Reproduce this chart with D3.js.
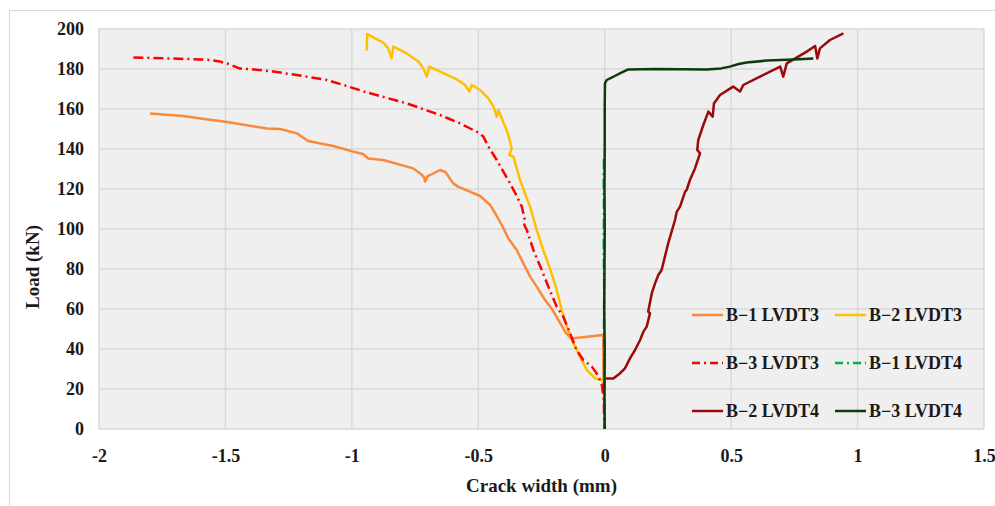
<!DOCTYPE html>
<html>
<head>
<meta charset="utf-8">
<script src="https://cdn.jsdelivr.net/npm/d3@7"></script>
<style>
  html, body { margin: 0; padding: 0; background: #ffffff; }
  svg text { font-family: "Liberation Serif", "DejaVu Serif", serif; font-weight: bold; fill: #1a1a1a; }
</style>
</head>
<body>
<svg id="chart" width="995" height="506"></svg>
<script>
// ---- data (crack width mm, load kN) ----
const xTicks = [-2, -1.5, -1, -0.5, 0, 0.5, 1, 1.5];
const yTicks = [0, 20, 40, 60, 80, 100, 120, 140, 160, 180, 200];

const b1LVDT3 = [[-1.798,157.8],[-1.667,156.5],[-1.612,155.5],[-1.494,153.5],[-1.335,150.2],[-1.284,150],[-1.217,147.8],[-1.173,144],[-1.074,141.5],[-0.995,138.7],[-0.956,137.5],[-0.936,135.3],[-0.876,134.5],[-0.757,130.3],[-0.730,127.8],[-0.715,126],[-0.710,123.7],[-0.700,126.5],[-0.690,127],[-0.651,129.5],[-0.630,128.5],[-0.619,126.5],[-0.599,122.8],[-0.580,121.2],[-0.493,116.5],[-0.453,112],[-0.433,107.8],[-0.407,102],[-0.381,95.3],[-0.348,89.5],[-0.322,82.8],[-0.295,76.2],[-0.269,71.2],[-0.236,64.5],[-0.210,60.3],[-0.183,54.5],[-0.157,48.7],[-0.134,45.3],[-0.006,47],[-0.005,30],[-0.004,22]];

const b2LVDT3 = [[-0.941,189.2],[-0.939,197.5],[-0.915,195.8],[-0.876,193.2],[-0.856,190.3],[-0.843,185.3],[-0.836,191.2],[-0.783,187.8],[-0.737,183.7],[-0.717,180.3],[-0.704,176.2],[-0.694,181.2],[-0.651,178.7],[-0.585,174.8],[-0.552,172],[-0.535,168.7],[-0.526,172],[-0.493,169.5],[-0.460,165.3],[-0.440,161.2],[-0.427,156.2],[-0.421,159.5],[-0.394,151.2],[-0.381,147],[-0.368,140.3],[-0.377,137],[-0.361,136.2],[-0.335,124.5],[-0.308,115.3],[-0.295,111.2],[-0.269,99.5],[-0.243,89.5],[-0.210,77.8],[-0.190,69.5],[-0.170,59.5],[-0.150,51.2],[-0.124,42.8],[-0.098,36.2],[-0.071,29.5],[-0.038,25.3],[-0.012,24.5],[0.0,25]];

const b3LVDT3 = [[-1.864,185.8],[-1.732,185.3],[-1.600,184.8],[-1.561,184.5],[-1.521,183.7],[-1.488,182.5],[-1.442,180.2],[-1.389,179.8],[-1.310,178.7],[-1.205,176.7],[-1.099,174.5],[-1.020,171.5],[-0.941,168.3],[-0.809,163.7],[-0.783,162.8],[-0.651,157],[-0.572,152.8],[-0.500,148.2],[-0.480,146.2],[-0.460,141.2],[-0.427,134.5],[-0.401,128.7],[-0.374,122.8],[-0.352,117.5],[-0.328,111.2],[-0.315,104],[-0.318,102],[-0.308,99.5],[-0.282,89.5],[-0.249,79.5],[-0.223,71.2],[-0.190,61.2],[-0.164,56.2],[-0.137,47.8],[-0.111,39.5],[-0.085,34.5],[-0.051,31.2],[-0.032,27.8],[-0.012,22.8],[-0.004,15],[-0.002,5],[0,0]];

const b1LVDT4 = [[0,0],[-0.002,15],[-0.001,30],[-0.003,50],[-0.002,70],[-0.004,90],[-0.003,110],[-0.004,125],[-0.003,135]];

const b2LVDT4 = [[0.004,25],[0.008,25.3],[0.034,25.3],[0.060,27.8],[0.080,30.3],[0.100,35.3],[0.120,39.5],[0.140,44.5],[0.153,48.7],[0.166,51.2],[0.179,57.8],[0.172,58.7],[0.186,67.8],[0.199,72.8],[0.212,77],[0.225,79.5],[0.251,92.8],[0.278,104.5],[0.285,108.7],[0.298,111.2],[0.318,118.7],[0.324,119.5],[0.337,124.5],[0.357,130.3],[0.377,137.8],[0.366,139.5],[0.370,144.5],[0.390,152],[0.410,158.7],[0.427,156.2],[0.432,162.8],[0.456,167],[0.508,171.2],[0.535,168.7],[0.548,172],[0.614,176.2],[0.694,181.2],[0.706,176.2],[0.720,182.8],[0.799,188.7],[0.832,191.5],[0.841,185.3],[0.851,190.3],[0.891,194.5],[0.944,197.8]];

const b3LVDT4 = [[0,0],[-0.001,20],[0,40],[-0.002,60],[-0.001,80],[0,100],[-0.001,120],[0,140],[0,160],[0.001,172.8],[0.008,174.5],[0.021,175.3],[0.040,176.5],[0.060,177.8],[0.093,179.8],[0.2,180],[0.403,179.8],[0.460,180.3],[0.495,181.2],[0.530,182.5],[0.561,183.2],[0.641,184.2],[0.746,184.8],[0.825,185.3]];

const seriesNames = ["B\u22121 LVDT3", "B\u22122 LVDT3", "B\u22123 LVDT3", "B\u22121 LVDT4", "B\u22122 LVDT4", "B\u22123 LVDT4"];
const seriesData = [b1LVDT3, b2LVDT3, b3LVDT3, b1LVDT4, b2LVDT4, b3LVDT4];
const seriesColors = ["#f98a3c", "#ffc000", "#ff0000", "#00b050", "#9a0a0a", "#0d3b0d"];
const seriesDash = [null, null, "10,4,2,4", "10,4,2,4", null, null];

// ---- layout ----
const svg = d3.select("#chart");
const L = 99, R = 984, T = 29, B = 429;

svg.append("rect").attr("x", 9.5).attr("y", 10.5).attr("width", 995).attr("height", 500)
  .attr("fill", "#ffffff").attr("stroke", "#d9d9d9").attr("stroke-width", 1);

const x = d3.scaleLinear().domain([-2, 1.5]).range([L, R]);
const y = d3.scaleLinear().domain([0, 200]).range([B, T]);

svg.append("rect").attr("x", L).attr("y", T).attr("width", R - L).attr("height", B - T).attr("fill", "#efefef");

// gridlines
svg.append("g").selectAll("line").data(xTicks).join("line")
  .attr("x1", d => x(d)).attr("x2", d => x(d)).attr("y1", T).attr("y2", B)
  .attr("stroke", "#d9d9d9").attr("stroke-width", 1.5);
svg.append("g").selectAll("line").data(yTicks).join("line")
  .attr("x1", L).attr("x2", R).attr("y1", d => y(d)).attr("y2", d => y(d))
  .attr("stroke", "#d9d9d9").attr("stroke-width", 1.5);

// axes (labels only)
const xAxis = d3.axisBottom(x).tickValues(xTicks).tickSize(0).tickPadding(0).tickFormat(d => String(d));
const gx = svg.append("g").attr("transform", `translate(0,${B + 20})`).call(xAxis);
gx.select(".domain").remove();
gx.selectAll("text").attr("font-size", 18).attr("dy", "0.7em")
  .style("font-family", '"Liberation Serif", serif').style("font-weight", "bold").attr("fill", "#1a1a1a");

const yAxis = d3.axisLeft(y).tickValues(yTicks).tickSize(0).tickPadding(0).tickFormat(d => String(d));
const gy = svg.append("g").attr("transform", `translate(${L - 15},0)`).call(yAxis);
gy.select(".domain").remove();
gy.selectAll("text").attr("font-size", 18)
  .style("font-family", '"Liberation Serif", serif').style("font-weight", "bold").attr("fill", "#1a1a1a");

// axis titles
svg.append("text").attr("x", (L + R) / 2).attr("y", 492).attr("text-anchor", "middle")
  .attr("font-size", 19).text("Crack width (mm)");
svg.append("text").attr("transform", "translate(39,267) rotate(-90)").attr("text-anchor", "middle")
  .attr("font-size", 19).text("Load (kN)");

// series
const line = d3.line().x(d => x(d[0])).y(d => y(d[1]));
const clip = svg.append("defs").append("clipPath").attr("id", "clip")
  .append("rect").attr("x", L).attr("y", T - 5).attr("width", R - L).attr("height", B - T + 5);
const gs = svg.append("g").attr("clip-path", "url(#clip)");
seriesData.forEach((data, i) => {
  gs.append("path").datum(data).attr("d", line)
    .attr("fill", "none").attr("stroke", seriesColors[i]).attr("stroke-width", 2.5)
    .attr("stroke-linejoin", "round")
    .attr("stroke-dasharray", seriesDash[i]);
});

// legend
const legendPos = [[692, 315], [835, 315], [692, 363], [835, 363], [692, 411], [835, 411]];
const lg = svg.append("g");
seriesNames.forEach((name, i) => {
  const [lx, ly] = legendPos[i];
  lg.append("line").attr("x1", lx).attr("x2", lx + 31).attr("y1", ly).attr("y2", ly)
    .attr("stroke", seriesColors[i]).attr("stroke-width", 2.5).attr("stroke-dasharray", seriesDash[i] ? "8,4,2,4" : null);
  lg.append("text").attr("x", lx + 34).attr("y", ly).attr("dy", "0.35em").attr("font-size", 18).text(name);
});
</script>
</body>
</html>
